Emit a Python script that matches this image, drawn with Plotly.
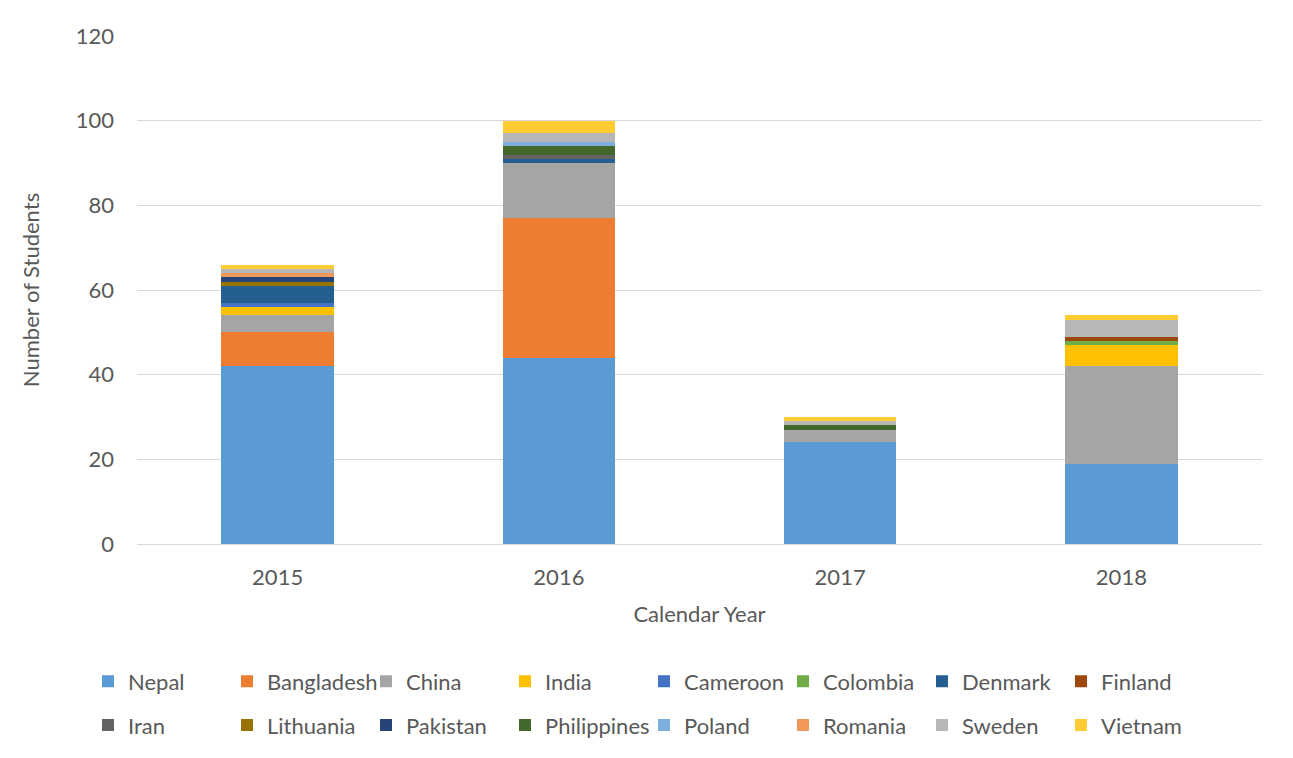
import plotly.graph_objects as go

years = ["2015", "2016", "2017", "2018"]
countries = ["Nepal", "Bangladesh", "China", "India", "Cameroon", "Colombia", "Denmark", "Finland",
             "Iran", "Lithuania", "Pakistan", "Philippines", "Poland", "Romania", "Sweden", "Vietnam"]

nepal = [42, 44, 24, 19]
bangladesh = [8, 33, 0, 0]
china = [4, 13, 3, 23]
india = [2, 0, 0, 5]
cameroon = [1, 0, 0, 0]
colombia = [0, 0, 0, 1]
denmark = [4, 1, 0, 0]
finland = [0, 0, 0, 1]
iran = [0, 1, 0, 0]
lithuania = [1, 0, 0, 0]
pakistan = [1, 0, 0, 0]
philippines = [0, 2, 1, 0]
poland = [0, 1, 0, 0]
romania = [1, 0, 0, 0]
sweden = [1, 2, 1, 4]
vietnam = [1, 3, 1, 1]

series = [nepal, bangladesh, china, india, cameroon, colombia, denmark, finland,
          iran, lithuania, pakistan, philippines, poland, romania, sweden, vietnam]

colors = ["#5B9BD5", "#ED7D31", "#A5A5A5", "#FFC000", "#4472C4", "#70AD47", "#255E91", "#9E480E",
          "#636363", "#997300", "#264478", "#43682B", "#7CAFDD", "#F1975A", "#B7B7B7", "#FFCD33"]

FONT = "Lato"
TXT = "#595959"
FS = 22

# figure is placed with an 8px page margin; work in figure coordinates
L, T, PW, PH = 129, 28, 1125, 510
W, H = 1285, 750

fig = go.Figure()
for i, (name, vals, col) in enumerate(zip(countries, series, colors)):
    fig.add_trace(go.Bar(
        x=years, y=vals, name=name,
        marker=dict(color=col, line=dict(width=0)),
        legend="legend" if i < 8 else "legend2",
    ))

legend_common = dict(
    orientation="h", xanchor="left", yanchor="middle",
    font=dict(family=FONT, size=FS, color=TXT),
    traceorder="normal", entrywidth=94, entrywidthmode="pixels",
    bgcolor="rgba(0,0,0,0)", itemclick=False, itemdoubleclick=False,
)

def px_x(x):
    return (x - L) / PW

def px_y(y):
    return (T + PH - y) / PH

fig.update_layout(
    barmode="stack",
    bargap=0.6,
    width=W, height=H,
    margin=dict(l=L, r=W - L - PW, t=T, b=H - T - PH),
    paper_bgcolor="white", plot_bgcolor="white",
    font=dict(family=FONT, size=FS, color=TXT),
    legend=dict(x=px_x(80), y=px_y(676), **legend_common),
    legend2=dict(x=px_x(80), y=px_y(720), **legend_common),
    xaxis=dict(
        title=dict(text="Calendar Year", font=dict(family=FONT, size=FS, color=TXT), standoff=17),
        showline=True, linecolor="#D9D9D9", linewidth=1,
        tickfont=dict(family=FONT, size=FS, color=TXT), ticks="", ticklabelstandoff=14,
    ),
    yaxis=dict(
        title=dict(text="Number of Students", font=dict(family=FONT, size=FS, color=TXT), standoff=30),
        range=[0, 120], dtick=20, showgrid=True, gridcolor="#D9D9D9", gridwidth=1,
        zeroline=False, tickfont=dict(family=FONT, size=FS, color=TXT), ticks="",
        ticklabelstandoff=22,
    ),
    shapes=[
        dict(type="line", xref="paper", yref="paper", x0=px_x(1281), x1=px_x(1281),
             y0=px_y(0), y1=px_y(744), line=dict(color="#D9D9D9", width=1)),
    ],
)

fig.write_html("out.html")
